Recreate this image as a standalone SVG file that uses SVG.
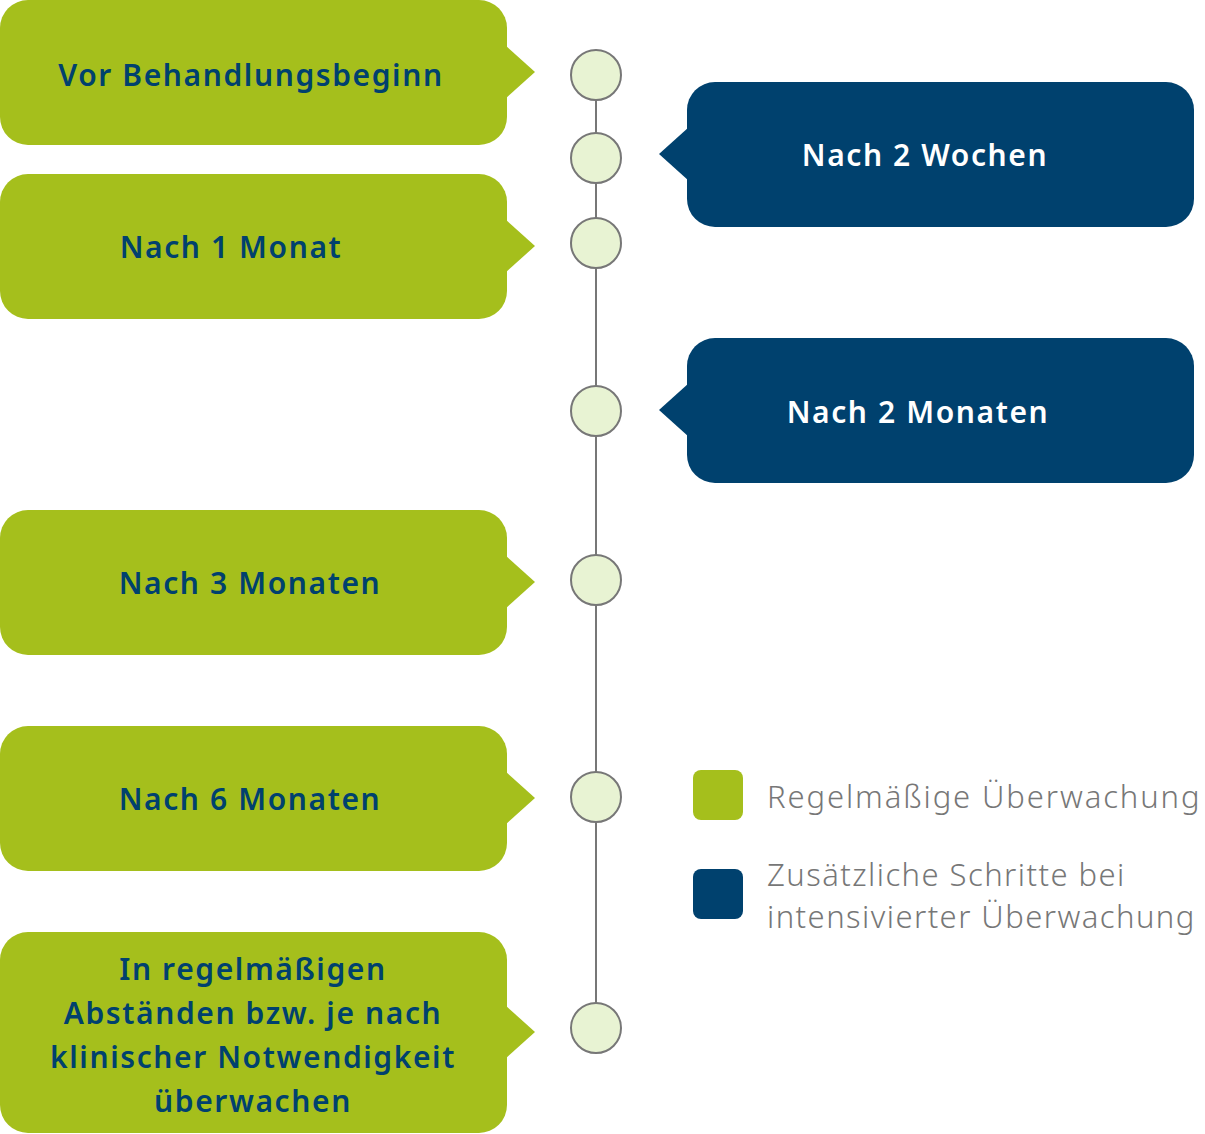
<svg xmlns="http://www.w3.org/2000/svg" width="1205" height="1134" viewBox="0 0 1205 1134">
<style>
.g{fill:#a5bf1c}
.b{fill:#00416e}
.tg{font-family:"Noto Sans","Open Sans",sans-serif;font-weight:600;font-size:30px;letter-spacing:1.6px;fill:#00416e;text-anchor:middle}
.tb{font-family:"Noto Sans","Open Sans",sans-serif;font-weight:600;font-size:30px;letter-spacing:1.6px;fill:#ffffff;text-anchor:middle}
.dot{fill:#e8f3d3;stroke:#777777;stroke-width:2}
.lg{font-family:"Noto Sans","Open Sans",sans-serif;font-weight:300;font-size:31px;letter-spacing:1.9px;fill:#777777}
.lg2{letter-spacing:1.45px}
</style>
<rect width="1205" height="1134" fill="#ffffff"/>
<g id="connectors">
<line x1="596" y1="75" x2="596" y2="1028" stroke="#777777" stroke-width="2"/>
</g>
<g id="dots">
<circle class="dot" cx="596" cy="75" r="25"/>
<circle class="dot" cx="596" cy="158" r="25"/>
<circle class="dot" cx="596" cy="243" r="25"/>
<circle class="dot" cx="596" cy="411" r="25"/>
<circle class="dot" cx="596" cy="580" r="25"/>
<circle class="dot" cx="596" cy="797" r="25"/>
<circle class="dot" cx="596" cy="1028" r="25"/>
</g>
<g id="n1">
<rect class="g" x="0" y="0" width="507" height="145" rx="28"/>
<polygon class="g" points="505,45 535,72 505,99"/>
<text class="tg" x="251" y="86">Vor Behandlungsbeginn</text>
</g>
<g id="n2">
<rect class="b" x="687" y="82" width="507" height="145" rx="28"/>
<polygon class="b" points="689,127 659,154 689,181"/>
<text class="tb" x="925" y="166">Nach 2 Wochen</text>
</g>
<g id="n3">
<rect class="g" x="0" y="174" width="507" height="145" rx="28"/>
<polygon class="g" points="505,219 535,246 505,273"/>
<text class="tg" x="231" y="258">Nach 1 Monat</text>
</g>
<g id="n4">
<rect class="b" x="687" y="338" width="507" height="145" rx="28"/>
<polygon class="b" points="689,383 659,410 689,437"/>
<text class="tb" x="918" y="423">Nach 2 Monaten</text>
</g>
<g id="n5">
<rect class="g" x="0" y="510" width="507" height="145" rx="28"/>
<polygon class="g" points="505,555 535,582 505,609"/>
<text class="tg" x="250" y="594">Nach 3 Monaten</text>
</g>
<g id="n6">
<rect class="g" x="0" y="726" width="507" height="145" rx="28"/>
<polygon class="g" points="505,771 535,798 505,825"/>
<text class="tg" x="250" y="810">Nach 6 Monaten</text>
</g>
<g id="n7">
<rect class="g" x="0" y="932" width="507" height="201" rx="28"/>
<polygon class="g" points="505,1005 535,1032 505,1059"/>
<text class="tg" x="253" y="980">In regelmäßigen</text>
<text class="tg" x="253" y="1024">Abständen bzw. je nach</text>
<text class="tg" x="253" y="1068">klinischer Notwendigkeit</text>
<text class="tg" x="253" y="1112">überwachen</text>
</g>
<g id="legend">
<rect class="g" x="693" y="770" width="50" height="50" rx="8"/>
<text class="lg" x="767" y="808">Regelmäßige Überwachung</text>
<rect class="b" x="693" y="869" width="50" height="50" rx="8"/>
<text class="lg lg2" x="767" y="886">Zusätzliche Schritte bei</text>
<text class="lg lg2" x="767" y="928">intensivierter Überwachung</text>
</g>
</svg>
